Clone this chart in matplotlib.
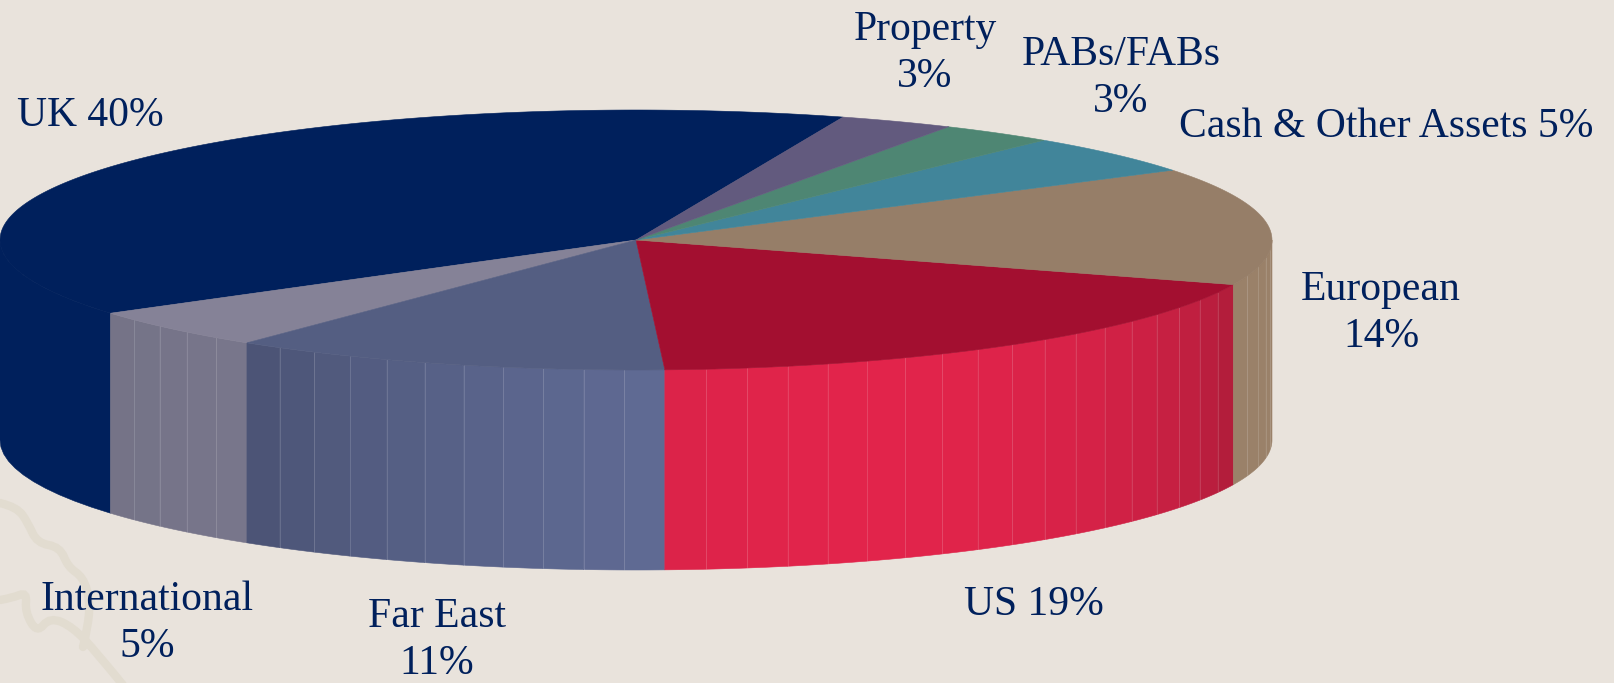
import numpy as np
from matplotlib import pyplot as plt
from matplotlib.colors import to_rgb
from matplotlib.patches import Polygon, PathPatch
from matplotlib.path import Path

# 数据（从 71 度开始逆时针），标签是取整后的百分比
names = ["UK", "International", "Far East", "US", "European", "Cash & Other Assets", "PABs/FABs", "Property"]
shares = [39.8, 5.0, 11.2, 18.7, 14.6, 4.9, 2.9, 2.9]
top_colors = ["#00205C", "#858297", "#545E82", "#A30F30", "#967E68", "#41859A", "#4E8673", "#625A7E"]
side_colors = ["#00205C", "#7E7C92", "#626D98", "#E2244B", "#9A8169", "#41859A", "#4E8673", "#625A7E"]
side_shade = [0, 0.1, 0.5, 0.65, 0, 0, 0, 0]
labels = ["UK 40%", "International\n5%", "Far East\n11%", "US 19%", "European\n14%",
          "Cash & Other Assets 5%", "PABs/FABs\n3%", "Property\n3%"]
label_x = [90, 147, 437, 1034, 1381, 1386, 1121, 925]
label_y = [116, 623, 640, 605, 313, 127, 78, 53]

bg = "#E9E3DC"
cx, cy = 636, 240
a, b = 636, 130
depth = 200
start = 71
strip = 3.8
peak = 291

plt.rcParams["font.family"] = ["Liberation Serif", "DejaVu Serif"]

fig = plt.figure(figsize=(16.14, 6.83), dpi=100, facecolor=bg)
ax = fig.add_axes([0, 0, 1, 1])
ax.set_xlim(0, 1614)
ax.set_ylim(683, 0)
ax.axis("off")


def ring(t):
    t = np.radians(t)
    return cx + a * np.cos(t), cy - b * np.sin(t)


def curl(pts):
    # 二次贝塞尔把折线磨圆
    pts = np.array(pts, dtype=float)
    verts = [pts[0]]
    for p, q in zip(pts[1:-2], pts[2:-1]):
        verts += [p, (p + q) / 2]
    verts += [pts[-2], pts[-1]]
    codes = [Path.MOVETO] + [Path.CURVE3] * (len(verts) - 1)
    ax.add_patch(PathPatch(Path(verts, codes), fc="none", ec="#E2DCD0", lw=6, capstyle="round", zorder=0))


# 背景花纹
curl([(0, 503), (17, 507), (28, 523), (37, 543), (60, 547), (68, 567), (83, 577), (90, 600), (88, 627), (83, 647)])
curl([(0, 600), (12, 598), (27, 592), (25, 612), (37, 633), (50, 617), (73, 627), (97, 653), (123, 685)])

# 切片角度
ends = start + np.cumsum(shares) * 3.6
begins = np.r_[start, ends[:-1]]

# 侧面，只画下半圈
for i in range(len(shares)):
    t0 = max(begins[i], 180)
    t1 = min(ends[i], 360)
    if t1 <= t0:
        continue
    n = 1 if names[i] == "UK" else max(1, int(round((t1 - t0) / strip)))
    edges = np.linspace(t0, t1, n + 1)
    rgb = np.array(to_rgb(side_colors[i]))
    for s0, s1 in zip(edges[:-1], edges[1:]):
        x, y = ring(np.linspace(s0, s1, 12))
        f = 1 - side_shade[i] * (1 - np.cos(np.radians((s0 + s1) / 2 - peak)))
        c = rgb * f
        pts = np.r_[np.c_[x, y], np.c_[x[::-1], y[::-1] + depth]]
        ax.add_patch(Polygon(pts, closed=True, fc=c, ec=c, lw=0.4, zorder=2))
    if n > 1:
        for s in edges[1:-1]:
            x, y = ring(s)
            ax.plot([x, x], [y, y + depth], color="white", lw=0.7, alpha=0.14, zorder=3)

# 顶面
for i in range(len(shares)):
    x, y = ring(np.linspace(begins[i], ends[i], 200))
    pts = np.r_[[[cx, cy]], np.c_[x, y]]
    ax.add_patch(Polygon(pts, closed=True, fc=top_colors[i], ec=top_colors[i], lw=0.4, zorder=4))

# 标签
for s, px, py in zip(labels, label_x, label_y):
    ax.text(px, py, s, color="#00205C", fontsize=30, ha="center", va="center",
            linespacing=1.3, zorder=6)

plt.savefig("out.png", dpi=100, facecolor=bg)
